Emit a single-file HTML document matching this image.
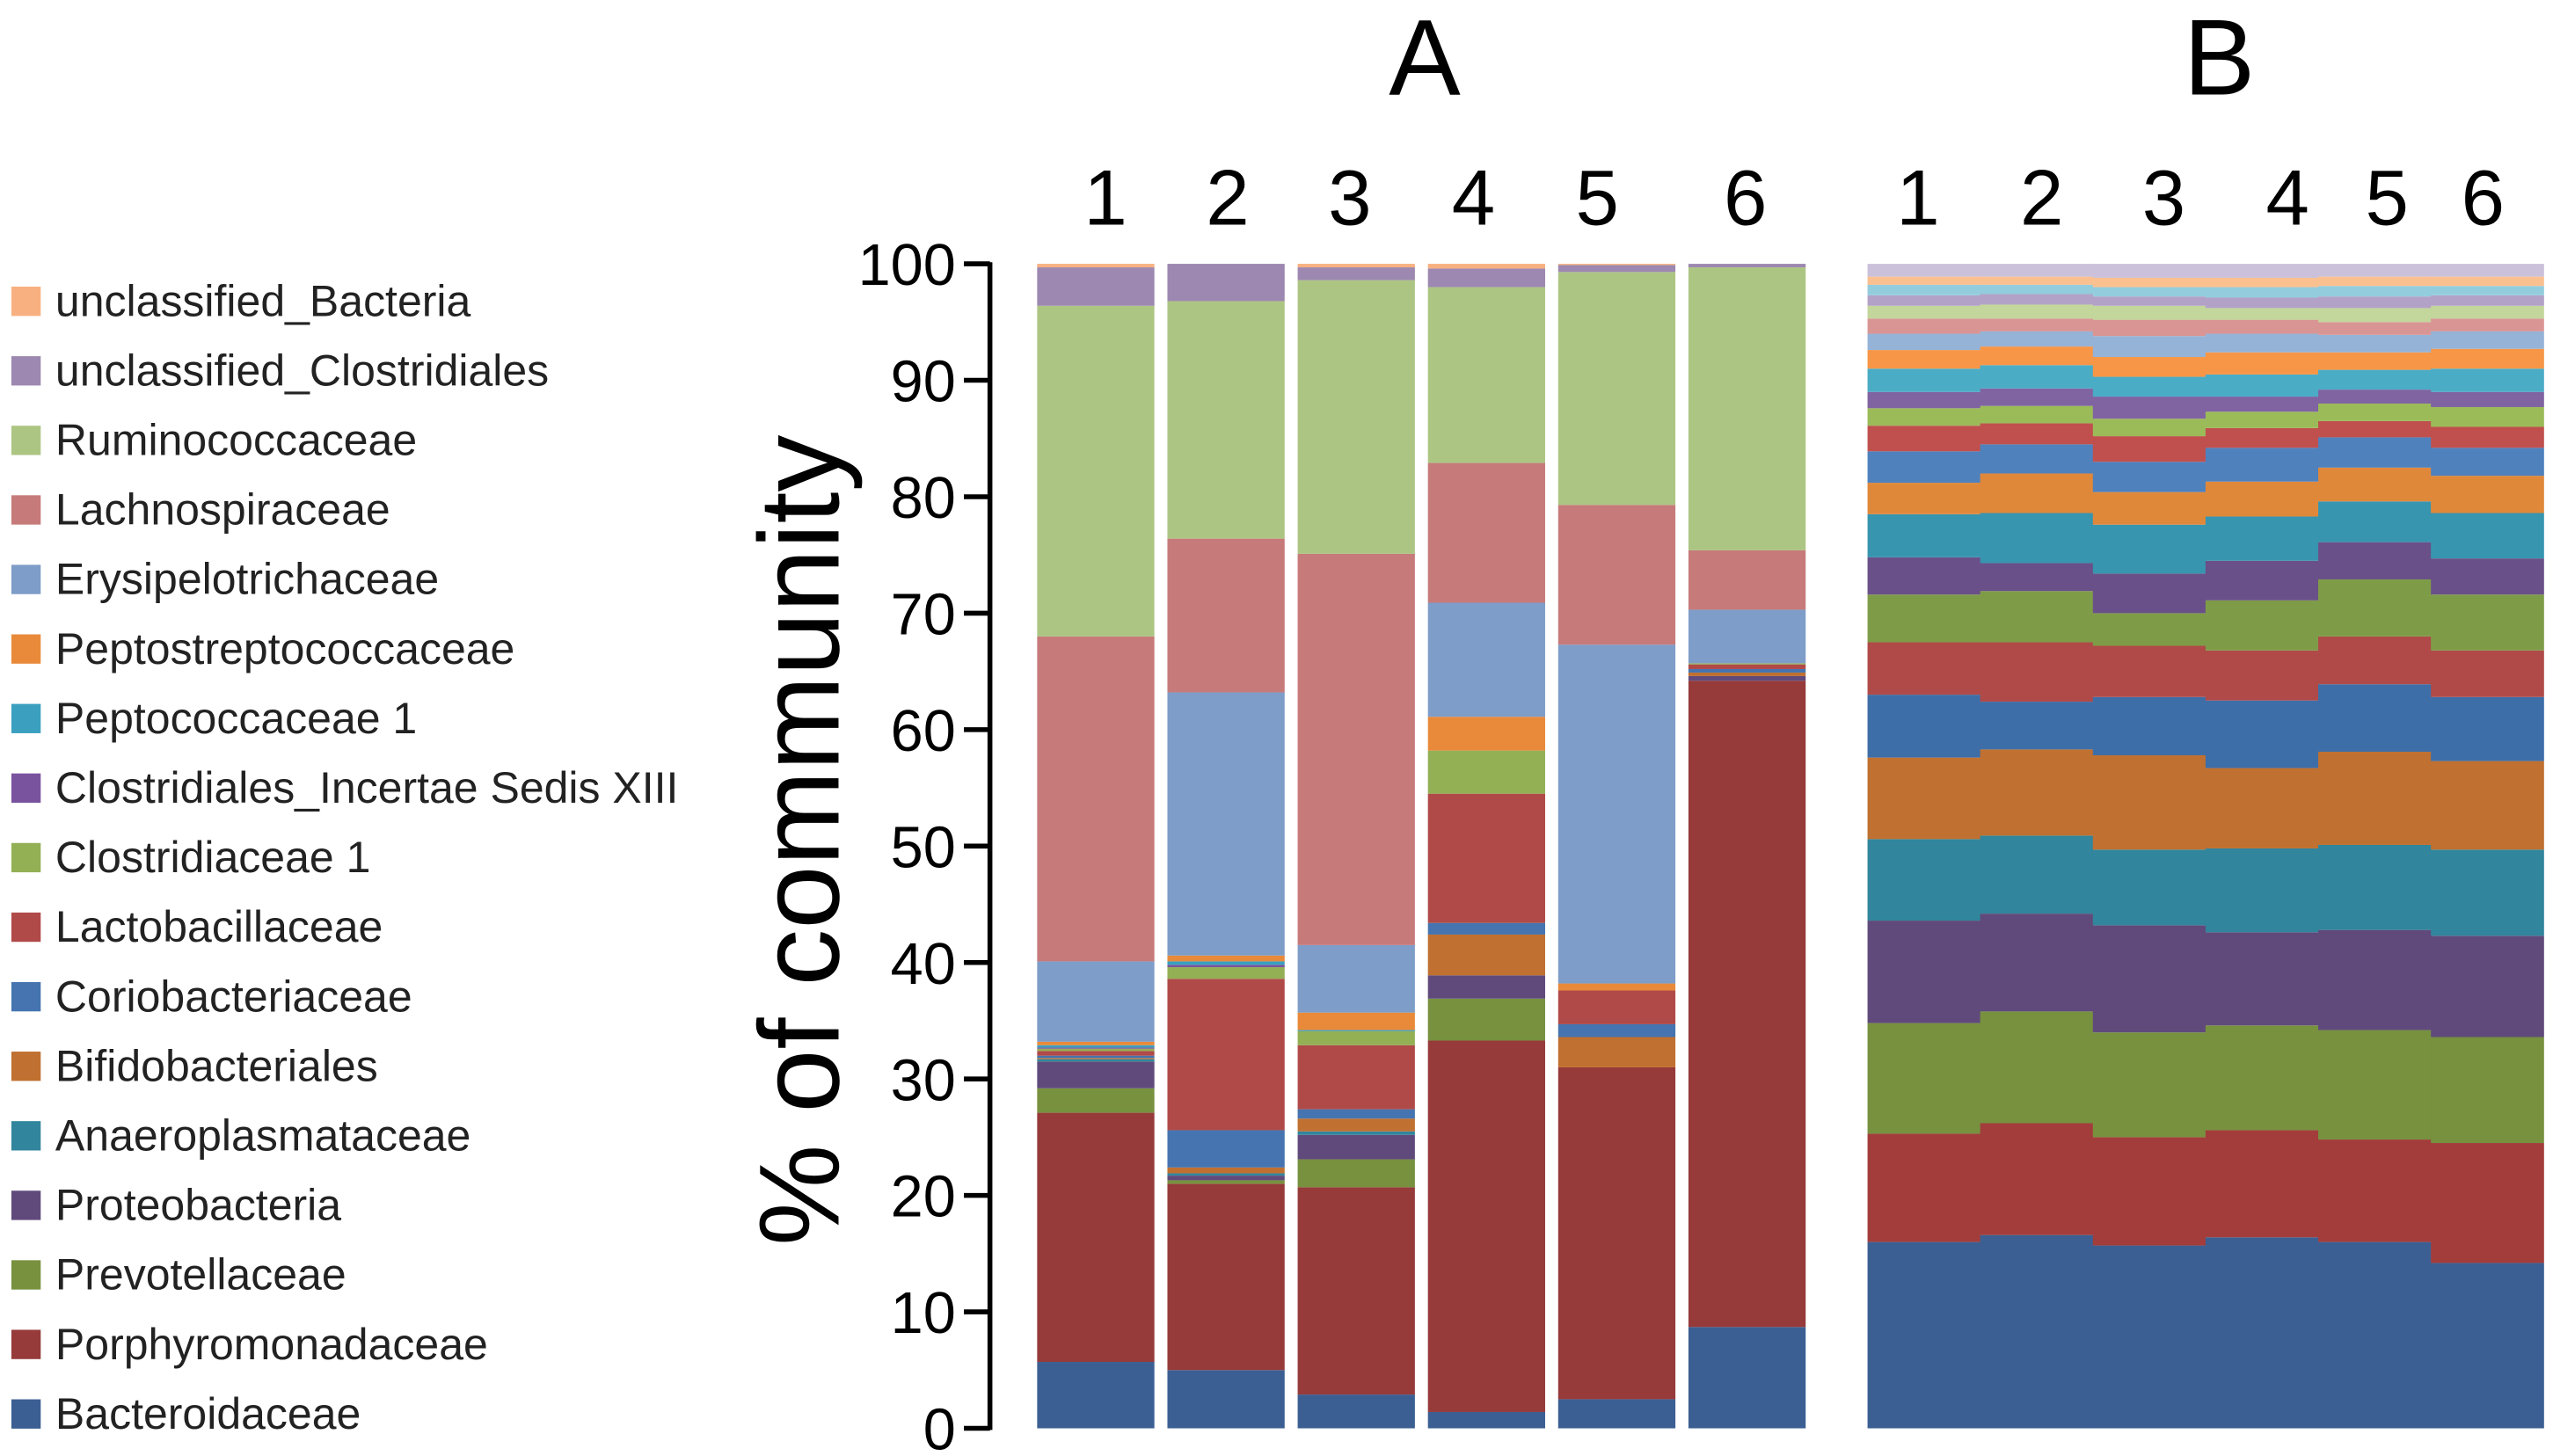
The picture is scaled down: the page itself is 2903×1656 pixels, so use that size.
<!DOCTYPE html>
<html><head><meta charset="utf-8"><style>
html,body{margin:0;padding:0;background:#fff;}
svg{display:block;font-family:"Liberation Sans",sans-serif;}
</style></head><body>
<svg id="chart" width="2903" height="1656" viewBox="0 0 1568 894" preserveAspectRatio="none" xmlns="http://www.w3.org/2000/svg">
<g id="legend"></g>
<g id="axis"></g>
<g id="panelA"></g>
<g id="panelB"></g>
<text x="875" y="58" font-size="66" text-anchor="middle">A</text>
<text x="1363" y="58" font-size="66" text-anchor="middle">B</text>
<text transform="translate(515,516) rotate(-90)" font-size="70" text-anchor="middle">% of community</text>
</svg>
<script>
const categories = ["Bacteroidaceae","Porphyromonadaceae","Prevotellaceae","Proteobacteria","Anaeroplasmataceae","Bifidobacteriales","Coriobacteriaceae","Lactobacillaceae","Clostridiaceae 1","Clostridiales_Incertae Sedis XIII","Peptococcaceae 1","Peptostreptococcaceae","Erysipelotrichaceae","Lachnospiraceae","Ruminococcaceae","unclassified_Clostridiales","unclassified_Bacteria"];
const colors = ["#3B5F93","#963A3A","#77913F","#604A7B","#31859C","#C07030","#4574B0","#B04A48","#93B055","#7A539E","#3BA0C0","#E88A3A","#7E9DC8","#C77A7A","#ADC583","#9C88B0","#F8B080"];
const sampleLabels = ["1","2","3","4","5","6"];
const yTicks = [0,10,20,30,40,50,60,70,80,90,100];
const a1 = [5.7,21.4,2.1,2.3,0.2,0.1,0.2,0.4,0.2,0.1,0.2,0.3,6.9,27.9,28.4,3.3,0.3];
const a2 = [5.0,16.0,0.3,0.4,0.2,0.5,3.2,13.0,1.0,0.2,0.3,0.5,22.6,13.2,20.4,3.2,0];
const a3 = [2.9,17.8,2.4,2.1,0.3,1.1,0.8,5.5,1.2,0,0.1,1.5,5.8,33.6,23.5,1.1,0.3];
const a4 = [1.4,31.9,3.6,2.0,0,3.5,1.0,11.1,3.7,0,0,2.9,9.8,12.0,15.1,1.6,0.4];
const a5 = [2.5,28.5,0,0,0,2.6,1.1,2.9,0,0,0,0.6,29.1,12.0,20.0,0.6,0.1];
const a6 = [8.7,55.5,0,0.4,0,0.3,0.3,0.4,0.1,0,0,0,4.6,5.1,24.3,0.3,0];
const seriesA = [a1,a2,a3,a4,a5,a6];
const b1 = [16.0,25.3,34.8,43.6,50.6,57.6,63.0,67.5,71.6,74.8,78.5,81.2,83.9,86.1,87.6,89.0,91.0,92.6,94.0,95.3,96.4,97.3,98.2,98.9,100];
const b2 = [16.6,26.2,35.8,44.2,50.9,58.3,62.4,67.5,71.9,74.3,78.6,82.0,84.5,86.3,87.8,89.3,91.3,92.9,94.2,95.3,96.5,97.4,98.2,98.9,100];
const b3 = [15.7,25.0,34.0,43.2,49.7,57.8,62.8,67.2,70.0,73.4,77.6,80.4,83.0,85.2,86.7,88.6,90.3,92.0,93.8,95.2,96.4,97.2,98.0,98.8,100];
const b4 = [16.4,25.6,34.6,42.6,49.8,56.7,62.5,66.8,71.1,74.5,78.3,81.3,84.2,85.9,87.3,88.6,90.5,92.4,94.0,95.2,96.2,97.1,98.0,98.8,100];
const b5 = [16.0,24.8,34.2,42.8,50.1,58.1,63.9,68.0,72.9,76.1,79.6,82.5,85.1,86.5,88.0,89.2,90.9,92.4,93.9,95.0,96.2,97.2,98.1,98.9,100];
const b6 = [14.2,24.5,33.6,42.3,49.7,57.3,62.8,66.8,71.6,74.7,78.6,81.8,84.2,86.0,87.7,89.0,91.0,92.7,94.2,95.3,96.4,97.3,98.1,98.9,100];
const seriesBTops = [b1,b2,b3,b4,b5,b6];
const colorsB = ["#3B5F93","#A33D3B","#77913F","#604A7B","#31859C","#C07030","#3E6EA8","#B04A48","#7E9C48","#6A5088","#3795B0","#E0883A","#4F81BD","#C0504D","#9BBB59","#8064A2","#4BACC6","#F79646","#95B3D7","#D99594","#C3D69B","#B3A2C7","#93CDDD","#FAC090","#CCC1DA"];

const NS="http://www.w3.org/2000/svg";
function mk(tag,attrs,parent){const e=document.createElementNS(NS,tag);for(const k in attrs)e.setAttribute(k,attrs[k]);parent.appendChild(e);return e;}
const y0=877,y100=162;
function yScale(v){return y0-(y0-y100)*v/100;}
function xA(i){return 637+i*80;}
const bW=72;
function xB(i){return 1147+i*69.2;}
const labelXA=[679,754,829,905,981,1072];
const labelXB=[1178,1254,1329,1405,1466,1525];

const ax=document.getElementById('axis');
mk('line',{x1:608,y1:y100-1,x2:608,y2:y0+1,stroke:'#000','stroke-width':3},ax);
yTicks.forEach(t=>{
  const l=mk('line',{x1:592,y1:yScale(t),x2:608,y2:yScale(t),stroke:'#000','stroke-width':3},ax);
  
  
  const tx=mk('text',{x:587,y:yScale(t)+13,'font-size':36,'text-anchor':'end'},ax);
  tx.textContent=t;
  
  
});

const pa=document.getElementById('panelA');
seriesA.forEach((vals,i)=>{
  let cum=0;
  vals.forEach((v,k)=>{
    if(v<=0){return;}
    const r=mk('rect',{x:xA(i),y:yScale(cum+v),width:bW,height:yScale(cum)-yScale(cum+v),fill:colors[k]},pa);
    
    
    cum+=v;
  });
  const lb=mk('text',{x:labelXA[i],y:138,'font-size':48,'text-anchor':'middle'},pa);
  lb.textContent=sampleLabels[i];
  
  
});

const pb=document.getElementById('panelB');
seriesBTops.forEach((tops,i)=>{
  let prev=0;
  tops.forEach((t,k)=>{
    const r=mk('rect',{x:xB(i),y:yScale(t),width:69.5,height:yScale(prev)-yScale(t),fill:colorsB[k]},pb);
    
    
    prev=t;
  });
  const lb=mk('text',{x:labelXB[i],y:138,'font-size':48,'text-anchor':'middle'},pb);
  lb.textContent=sampleLabels[i];
  
  
});

const lg=document.getElementById('legend');
for(let j=0;j<categories.length;j++){
  const k=categories.length-1-j;
  const yc=185+j*42.7;
  const sw=mk('rect',{x:7,y:yc-9,width:18,height:18,fill:colors[k]},lg);
  
  
  const tx=mk('text',{x:34,y:yc+9,'font-size':27,fill:'#222'},lg);
  tx.textContent=categories[k];
  
  
}
</script>
</body></html>
